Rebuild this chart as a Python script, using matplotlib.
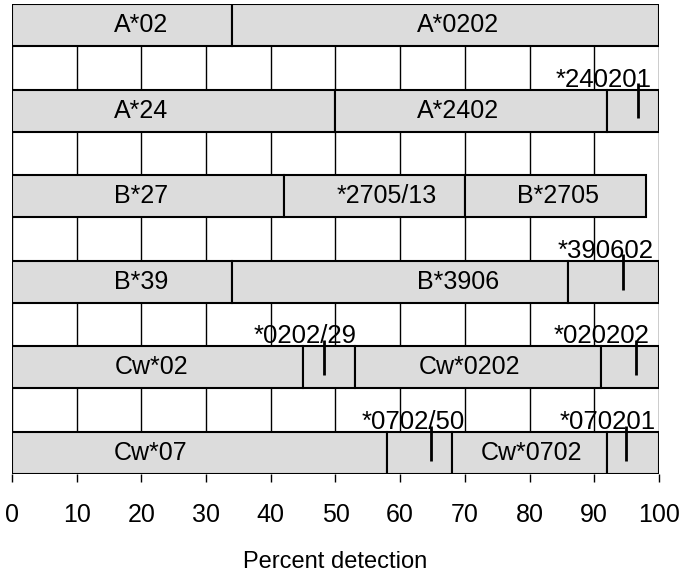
import numpy as np
from matplotlib import pyplot as plt

plt.rcParams['font.family'] = ['Liberation Sans', 'DejaVu Sans']

# one row per allele group, top to bottom
groups = ['A*02', 'A*24', 'B*27', 'B*39', 'Cw*02', 'Cw*07']
bounds = [
    [0, 34, 100],
    [0, 50, 92, 100],
    [0, 42, 70, 98],
    [0, 34, 86, 100],
    [0, 45, 53, 91, 100],
    [0, 58, 68, 92, 100],
]
seg_names = [
    ['A*02', 'A*0202'],
    ['A*24', 'A*2402', ''],
    ['B*27', '*2705/13', 'B*2705'],
    ['B*39', 'B*3906', ''],
    ['Cw*02', '', 'Cw*0202', ''],
    ['Cw*07', '', 'Cw*0702', ''],
]
# small subtypes marked with a tick
minor_x = [[], [96.7], [], [94.5], [48.3, 96.4], [64.7, 94.9]]
minor_names = [[], ['*240201'], [], ['*390602'], ['*0202/29', '*020202'],
               ['*0702/50', '*070201']]

# where the text goes (layout, not data)
seg_text_x = [[20, 69], [20, 69, None], [20, 58, 84.4], [20, 69, None],
              [21.6, None, 70.7, None], [21.4, None, 80.3, None]]
minor_text_x = [[], [91.5], [], [91.7], [45.3, 91.2], [62, 92]]

fig = plt.figure(figsize=(6.88, 5.73), dpi=100)
ax = fig.add_axes([0.0174, 0.1728, 0.9404, 0.8202])

h = 0.49
for i, b in enumerate(bounds):
    b = np.array(b)
    ax.barh(np.full(len(b) - 1, i), np.diff(b), left=b[:-1], height=h,
            color='#dcdcdc', edgecolor='black', linewidth=1.5, zorder=2)
    for name, tx in zip(seg_names[i], seg_text_x[i]):
        if name:
            ax.text(tx, i, name, ha='center', va='center', fontsize=18, zorder=4)
    for mx, name, tx in zip(minor_x[i], minor_names[i], minor_text_x[i]):
        ax.plot([mx, mx], [i - 0.32, i + 0.09], color='black', lw=2, zorder=5,
                solid_capstyle='butt')
        ax.text(tx, i - h / 2 - 0.035, name, ha='center', va='baseline',
                fontsize=18.5, zorder=4)

ax.set_xlim(0, 100)
ax.set_ylim(len(groups) - 1 + h / 2, -h / 2)
ax.set_xticks(np.arange(0, 101, 10))
ax.set_yticks([])
ax.grid(axis='x', color='black', linewidth=1)
ax.set_axisbelow(True)
for s in ax.spines.values():
    s.set_visible(False)
ax.tick_params(axis='x', direction='out', length=6, width=1, labelsize=18, pad=15)
ax.set_xlabel('Percent detection', fontsize=17, labelpad=17)

fig.savefig('out.png', dpi=100)
